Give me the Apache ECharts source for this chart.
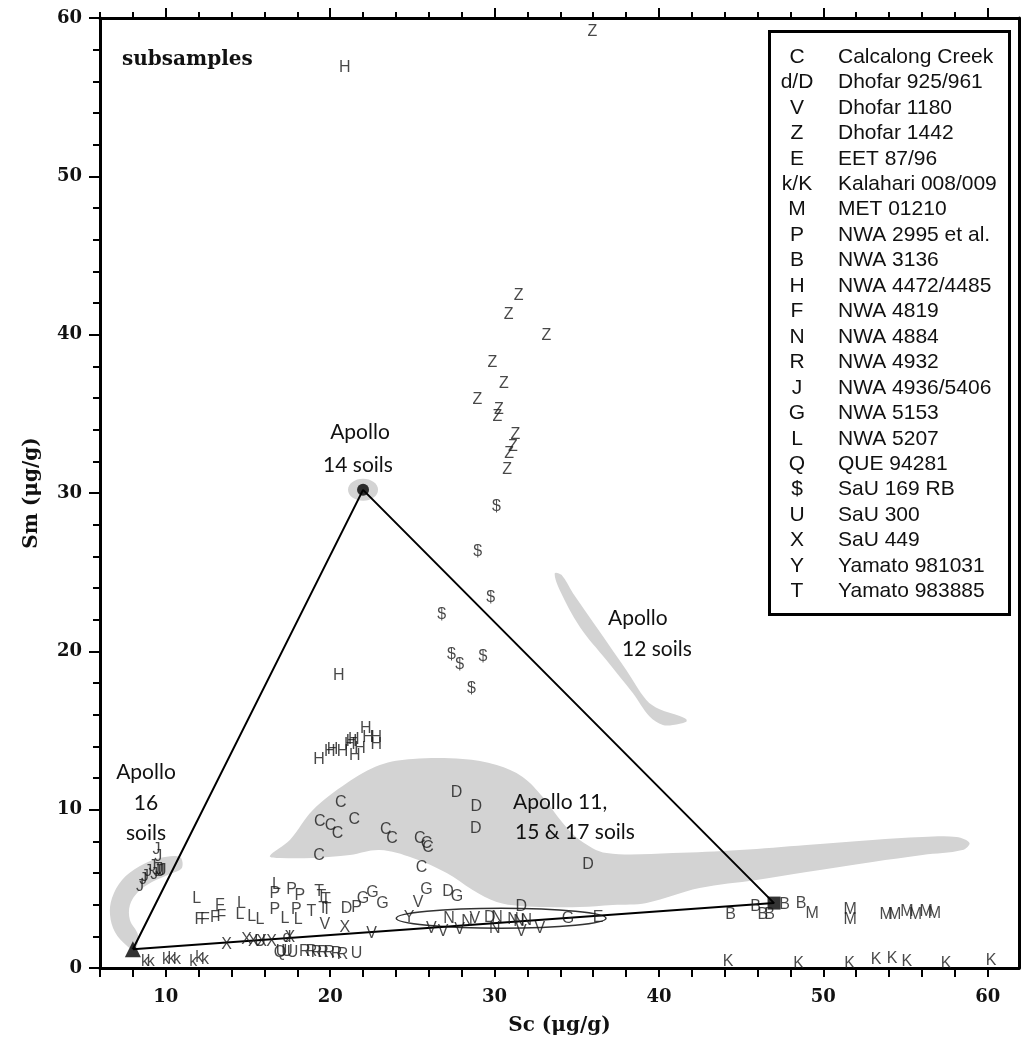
<!DOCTYPE html>
<html><head><meta charset="utf-8">
<script src="https://cdn.jsdelivr.net/npm/echarts@6/dist/echarts.min.js"></script>
<style>html,body{margin:0;padding:0;background:#fff}#c{width:1021px;height:1050px}</style>
</head><body><div id="c"></div>
<script>
// ---------- tick values ----------
const xMajorTicks = [10, 20, 30, 40, 50, 60];
const xMinorTicks = [6,8,10,12,14,16,18,20,22,24,26,28,30,32,34,36,38,40,42,44,46,48,50,52,54,56,58,60];
const yMajorTicks = [0, 10, 20, 30, 40, 50, 60];
const yMinorTicks = [0,2,4,6,8,10,12,14,16,18,20,22,24,26,28,30,32,34,36,38,40,42,44,46,48,50,52,54,56,58,60];

// ---------- subsample data (Sc, Sm) ----------
const ptsC = [[20.65,10.44],[19.37,9.24],[20.02,8.97],[20.45,8.46],[21.46,9.39],[23.39,8.76],[23.77,8.19],[25.45,8.19],[25.86,7.88],[25.96,7.62],[19.33,7.07],[25.55,6.36]];
const ptsD = [[27.68,11.07],[28.89,10.19],[28.86,8.82],[35.68,6.51],[31.63,3.87],[21.0,3.77],[27.17,4.82],[29.71,3.2]];
const ptsd = [[17.37,1.9]];
const ptsV = [[19.68,2.72],[22.52,2.19],[25.35,4.13],[26.16,2.51],[26.87,2.29],[27.88,2.4],[28.8,3.14],[31.63,2.29],[32.75,2.51]];
const ptsZ = [[35.95,59.15],[31.47,42.45],[30.86,41.25],[33.15,39.92],[29.87,38.24],[30.57,36.89],[28.95,35.92],[30.26,35.29],[30.17,34.83],[31.27,33.67],[31.12,32.93],[30.88,32.51],[30.76,31.46]];
const ptsE = [[36.29,3.2]];
const ptsk = [[8.74,0.4],[9.08,0.4],[10.01,0.5],[10.35,0.6],[10.69,0.5],[11.67,0.4],[12.03,0.65],[12.38,0.5]];
const ptsK = [[44.2,0.4],[48.5,0.25],[51.6,0.25],[53.2,0.5],[54.18,0.57],[55.08,0.4],[57.47,0.3],[60.2,0.46]];
const ptsM = [[49.32,3.45],[51.63,3.66],[51.63,3.07],[53.82,3.35],[54.33,3.35],[55.08,3.56],[55.6,3.35],[56.25,3.56],[56.76,3.41]];
const ptsP = [[16.64,4.72],[17.65,4.93],[18.16,4.55],[16.64,3.71],[17.95,3.66],[21.6,3.83]];
const ptsB = [[44.36,3.35],[45.88,3.87],[46.32,3.35],[46.73,3.35],[47.64,3.98],[48.65,4.09]];
const ptsH = [[20.89,56.85],[20.53,18.45],[19.33,13.14],[19.98,13.66],[20.14,13.77],[20.75,13.66],[21.2,14.09],[21.3,14.3],[21.44,14.4],[21.5,13.39],[21.81,13.88],[22.17,15.14],[22.31,14.57],[22.81,14.57],[22.81,14.09]];
const ptsF = [[12.04,3.03],[12.38,3.03],[12.99,3.2],[13.39,3.24],[13.29,3.92]];
const ptsN = [[27.23,3.14],[28.33,2.93],[30.15,3.2],[30.01,2.51],[31.12,3.08],[31.49,2.93],[31.93,2.99]];
const ptsR = [[18.46,1.03],[18.86,1.03],[19.17,0.97],[19.57,0.97],[19.94,0.97],[20.38,0.88],[20.75,0.82]];
const ptsJ = [[9.44,7.45],[9.54,7.03],[9.2,6.4],[8.94,6.08],[8.74,5.77],[8.63,5.56],[8.43,5.14],[9.4,6.2],[9.5,6.1],[9.6,6.2],[9.7,6.1],[9.8,6.15],[9.3,5.9]];
const ptsG = [[22.0,4.4],[22.57,4.76],[23.18,4.04],[25.86,4.97],[27.72,4.5],[34.47,3.14]];
const ptsL = [[11.88,4.4],[14.6,4.04],[14.51,3.35],[15.22,3.24],[15.73,3.08],[16.74,5.24],[17.25,3.14],[18.05,3.03]];
const ptsQ = [[16.95,1.0]];
const ptsDollar = [[30.11,29.14],[28.98,26.28],[29.77,23.37],[26.79,22.3],[27.38,19.77],[27.88,19.14],[29.3,19.67],[28.6,17.67]];
const ptsU = [[15.73,1.66],[17.04,1.03],[17.38,1.03],[17.71,0.97],[21.6,0.88]];
const ptsX = [[13.7,1.45],[14.92,1.77],[15.32,1.66],[15.83,1.66],[16.44,1.66],[17.55,1.94],[20.89,2.57]];
const ptsY = [[24.8,3.2]];
const ptsT = [[19.33,4.82],[19.47,4.5],[19.74,4.3],[19.57,3.77],[18.86,3.56],[19.78,3.66]];

// ---------- end-member soils ----------
const apollo16Pt = [[8.0,1.18]];
const apollo14Pt = [[22.0,30.2]];
const apollo11Pt = [[47.0,4.1]];
const mixingTriangle = [[8.0,1.18],[22.0,30.2],[47.0,4.1],[8.0,1.18]];

// ---------- soil fields (outline points, Sc/Sm) ----------
const apollo16Field = [[10.86,7.01],[9.65,6.95],[8.43,6.44],[7.34,5.56],[6.73,4.42],[6.61,3.35],[6.91,2.27],[7.58,1.45],[8.13,1.14],[8.31,2.08],[7.82,3.03],[7.82,3.98],[8.31,4.80],[9.16,5.43],[10.26,5.94],[10.98,6.32]];
const apollo12Field = [[33.66,24.93],[33.96,23.88],[35.18,21.56],[36.8,19.46],[38.42,17.35],[39.43,15.88],[40.24,15.35],[40.85,15.35],[41.66,15.56],[41.66,15.71],[41.26,15.92],[40.04,16.34],[39.23,16.93],[38.01,18.82],[36.40,21.24],[34.77,23.67],[34.07,24.83]];
const apollo111517Field = [[16.33,7.08],[17.55,8.09],[18.95,9.98],[21.02,11.68],[23.02,12.82],[25.03,13.20],[28.07,13.20],[30.13,12.82],[31.71,12.07],[32.93,10.80],[34.15,9.16],[35.18,8.09],[36.82,7.26],[40.83,7.26],[44.91,7.45],[48.98,7.77],[52.99,8.09],[56.03,8.28],[58.10,8.28],[58.89,7.90],[58.46,7.45],[56.03,7.14],[52.99,6.70],[48.98,6.06],[45.94,5.56],[42.47,5.05],[39.25,4.11],[37.19,3.98],[35.18,3.85],[33.17,3.85],[31.53,3.92],[30.13,4.17],[28.67,4.93],[27.09,6.00],[25.03,6.95],[23.02,7.45],[21.20,7.14],[18.95,6.95],[16.94,6.95]];
const yamatoEllipseCenter = [[30.4,3.14]];
const yamatoEllipseRadii = [6.38, 0.63];

// ---------- legend ----------
const legendKeys = ['C','d/D','V','Z','E','k/K','M','P','B','H','F','N','R','J','G','L','Q','$','U','X','Y','T'];
const legendNames = ['Calcalong Creek','Dhofar 925/961','Dhofar 1180','Dhofar 1442','EET 87/96','Kalahari 008/009','MET 01210','NWA 2995 et al.','NWA 3136','NWA 4472/4485','NWA 4819','NWA 4884','NWA 4932','NWA 4936/5406','NWA 5153','NWA 5207','QUE 94281','SaU 169 RB','SaU 300','SaU 449','Yamato 981031','Yamato 983885'];

const letterGroups = [
  ['C',ptsC],['D',ptsD],['d',ptsd],['V',ptsV],['Z',ptsZ],['E',ptsE],['k',ptsk],['K',ptsK],['M',ptsM],
  ['P',ptsP],['B',ptsB],['H',ptsH],['F',ptsF],['N',ptsN],['R',ptsR],['J',ptsJ],['G',ptsG],['L',ptsL],
  ['Q',ptsQ],['$',ptsDollar],['U',ptsU],['X',ptsX],['Y',ptsY],['T',ptsT]
];

const GRAY = '#d3d3d3';
const serifBold = {fontFamily:'DejaVu Serif', fontWeight:'bold', color:'#111'};

function fieldSeries(pts){
  return {
    type:'custom', coordinateSystem:'cartesian2d', data: pts, silent:true, z:1, clip:false,
    renderItem: function(params, api){
      if (params.dataIndex !== 0) return null;
      const points = pts.map(p => api.coord(p));
      return {type:'polygon', shape:{points: points, smooth:0.35}, style:{fill:GRAY}};
    }
  };
}

const series = [
  fieldSeries(apollo16Field),
  fieldSeries(apollo12Field),
  fieldSeries(apollo111517Field),
  {
    type:'custom', coordinateSystem:'cartesian2d', data: apollo14Pt, silent:true, z:1,
    renderItem: function(params, api){
      const c = api.coord([api.value(0), api.value(1)]);
      return {type:'ellipse', shape:{cx:c[0], cy:c[1], rx:15, ry:11}, style:{fill:GRAY}};
    }
  },
  {
    type:'custom', coordinateSystem:'cartesian2d', data: yamatoEllipseCenter, silent:true, z:3,
    renderItem: function(params, api){
      const c = api.coord([api.value(0), api.value(1)]);
      const s = api.size(yamatoEllipseRadii);
      return {type:'ellipse', shape:{cx:c[0], cy:c[1], rx:s[0], ry:s[1]}, style:{fill:null, stroke:'#333', lineWidth:1.5}};
    }
  },
  {
    type:'line', data: mixingTriangle, symbol:'none', silent:true, z:4,
    lineStyle:{color:'#000', width:2}
  },
  {type:'scatter', data: apollo16Pt, symbol:'triangle', symbolSize:16, itemStyle:{color:'#000'}, z:5, silent:true},
  {type:'scatter', data: apollo14Pt, symbol:'circle', symbolSize:12, itemStyle:{color:'#000'}, z:5, silent:true},
  {type:'scatter', data: apollo11Pt, symbol:'rect', symbolSize:13, itemStyle:{color:'#000'}, z:5, silent:true}
];

letterGroups.forEach(([ch, pts]) => {
  series.push({
    type:'scatter', name: ch, data: pts, symbolSize: 2, z: 6, silent:true,
    itemStyle:{color:'rgba(0,0,0,0)'},
    label:{show:true, position:'inside', formatter: ch, fontFamily:'Liberation Sans', fontSize:16, color:'#1a1a1a'}
  });
});

const graphic = [];
graphic.push({type:'rect', left:768, top:30, shape:{width:240, height:583}, style:{fill:'#fff', stroke:'#000', lineWidth:3}, z:50});
legendKeys.forEach((k,i) => {
  const y = 57 + i*25.45;
  graphic.push({type:'text', x:797, y:y, z:51, style:{text:k, font:'21px "Liberation Sans"', fill:'#111', align:'center', verticalAlign:'middle'}});
  graphic.push({type:'text', x:838, y:y, z:51, style:{text:legendNames[i], font:'21px "Liberation Sans"', fill:'#111', align:'left', verticalAlign:'middle'}});
});
graphic.push({type:'text', x:122, y:60, z:51, style:{text:'subsamples', font:'bold 20px "DejaVu Serif"', fill:'#111', align:'left', verticalAlign:'middle'}});
const annFont = '21px Lato';
function ann(text, x, y, align){
  graphic.push({type:'text', x:x, y:y, z:51, style:{text:text, font:annFont, fill:'#111', align:align, verticalAlign:'middle'}});
}
ann('Apollo', 360, 432, 'center');
ann('14 soils', 358, 465, 'center');
ann('Apollo', 608, 618, 'left');
ann('12 soils', 622, 649, 'left');
ann('Apollo', 146, 772, 'center');
ann('16', 146, 803, 'center');
ann('soils', 146, 833, 'center');
ann('Apollo 11,', 513, 802, 'left');
ann('15 & 17 soils', 515, 832, 'left');

const axisLineStyle = {color:'#000', width:3};
const tickStyle = {color:'#000', width:2};

const option = {
  animation:false,
  backgroundColor:'#fff',
  grid:{left:100, right:2, top:18, bottom:82, containLabel:false},
  xAxis:[
    {type:'value', position:'bottom', min:6, max:61.9, interval:2,
     axisLine:{show:true, onZero:false, lineStyle:axisLineStyle},
     axisTick:{show:true, inside:false, length:9, lineStyle:tickStyle, customValues:xMinorTicks},
     axisLabel:{show:true, customValues:xMajorTicks, margin:20, fontSize:18, ...serifBold},
     splitLine:{show:false},
     name:'Sc (μg/g)', nameLocation:'middle', nameGap:48,
     nameTextStyle:{fontSize:20, ...serifBold}},
    {type:'value', position:'top', min:6, max:61.9, interval:2,
     axisLine:{show:true, onZero:false, lineStyle:axisLineStyle},
     axisTick:{show:true, inside:false, length:6, lineStyle:tickStyle, customValues:xMinorTicks},
     axisLabel:{show:false}, splitLine:{show:false}},
    {type:'value', position:'top', min:6, max:61.9, interval:2,
     axisLine:{show:false, onZero:false},
     axisTick:{show:true, inside:false, length:10, lineStyle:tickStyle, customValues:xMajorTicks},
     axisLabel:{show:false}, splitLine:{show:false}}
  ],
  yAxis:[
    {type:'value', position:'left', min:0, max:60, interval:2,
     axisLine:{show:true, onZero:false, lineStyle:axisLineStyle},
     axisTick:{show:true, inside:false, length:7, lineStyle:tickStyle, customValues:yMinorTicks},
     axisLabel:{show:true, customValues:yMajorTicks, margin:18, fontSize:18, ...serifBold},
     splitLine:{show:false},
     name:'Sm (μg/g)', nameLocation:'middle', nameGap:58,
     nameTextStyle:{fontSize:20, ...serifBold}},
    {type:'value', position:'left', min:0, max:60, interval:2,
     axisLine:{show:false, onZero:false},
     axisTick:{show:true, inside:false, length:11, lineStyle:tickStyle, customValues:yMajorTicks},
     axisLabel:{show:false}, splitLine:{show:false}},
    {type:'value', position:'right', min:0, max:60, interval:2,
     axisLine:{show:true, onZero:false, lineStyle:axisLineStyle},
     axisTick:{show:false}, axisLabel:{show:false}, splitLine:{show:false}}
  ],
  series: series,
  graphic: graphic
};

const chart = echarts.init(document.getElementById('c'), null, {renderer:'canvas'});
chart.setOption(option);
</script>
</body></html>
